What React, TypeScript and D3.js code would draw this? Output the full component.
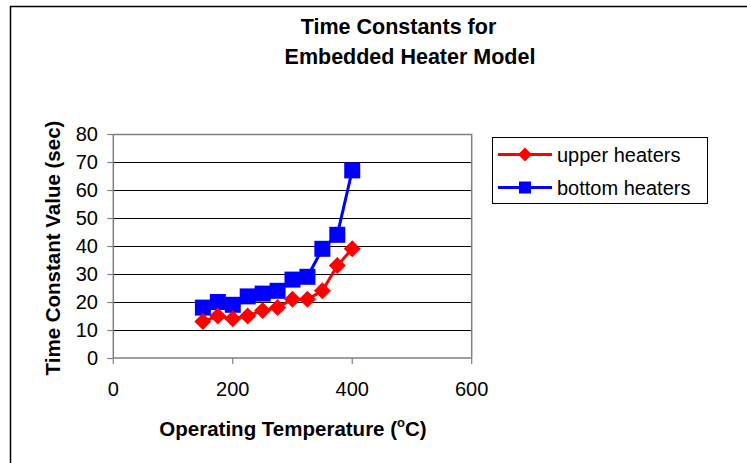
import React from "react";
import * as d3 from "d3";

const temps = [150, 175, 200, 225, 250, 275, 300, 325, 350, 375, 400];
const upperHeaters = [13, 15, 14, 15, 17, 18, 21, 21, 24, 33, 39];
const bottomHeaters = [18, 20, 19, 22, 23, 24, 28, 29, 39, 44, 67];
const xTicks = [0, 200, 400, 600];
const yTicks = [0, 10, 20, 30, 40, 50, 60, 70, 80];
const titleLines = ["Time Constants for", "Embedded Heater Model"];
const seriesNames = ["upper heaters", "bottom heaters"];

const FONT = "'Liberation Sans', Arial, Helvetica, sans-serif";

export default function App() {
  const W = 747, H = 463;
  const left = 113.3, right = 471.7, top = 134, bottom = 358;
  const x = d3.scaleLinear().domain([0, 600]).range([left, right]);
  const y = d3.scaleLinear().domain([0, 80]).range([bottom, top]);
  const line = d3.line<[number, number]>().x(d => x(d[0])).y(d => y(d[1]));
  const upperPts: [number, number][] = temps.map((t, i) => [t, upperHeaters[i]]);
  const bottomPts: [number, number][] = temps.map((t, i) => [t, bottomHeaters[i]]);

  const diamond = (cx: number, cy: number, r: number) =>
    `M${cx},${cy - r}L${cx + r},${cy}L${cx},${cy + r}L${cx - r},${cy}Z`;

  return (
    <svg width={W} height={H} style={{ position: "absolute", left: 0, top: 0, background: "#fff" }}>
      <rect x={0} y={0} width={W} height={H} fill="#fff" />
      {/* outer frame */}
      <path d={`M10.5,${H + 2}V6.5H${W + 2}`} fill="none" stroke="#000" strokeWidth={1.5} />
      {/* title */}
      <text x={398.5} y={34} textAnchor="middle" fontFamily={FONT} fontWeight="bold" fontSize={21.5} fill="#000">{titleLines[0]}</text>
      <text x={410} y={64} textAnchor="middle" fontFamily={FONT} fontWeight="bold" fontSize={21.5} fill="#000">{titleLines[1]}</text>

      {/* gridlines */}
      {yTicks.filter(t => t > 0 && t < 80).map(t => (
        <line key={t} x1={left} x2={right} y1={Math.round(y(t)) + 0.5} y2={Math.round(y(t)) + 0.5} stroke="#000" strokeWidth={1} />
      ))}
      {/* plot border (top/right) */}
      <path d={`M${left},${top + 0.5}H${right}V${bottom}`} fill="none" stroke="#808080" strokeWidth={1.5} />
      {/* axes */}
      <line x1={left} x2={left} y1={top} y2={bottom} stroke="#808080" strokeWidth={1.5} />
      <line x1={left} x2={right} y1={bottom} y2={bottom} stroke="#808080" strokeWidth={1.5} />
      {yTicks.map(t => (
        <g key={t}>
          <line x1={left - 6} x2={left} y1={Math.round(y(t)) + 0.5} y2={Math.round(y(t)) + 0.5} stroke="#808080" strokeWidth={1.2} />
          <text x={98} y={y(t) + 7} textAnchor="end" fontFamily={FONT} fontSize={20} fill="#000">{t}</text>
        </g>
      ))}
      {xTicks.map(t => (
        <g key={t}>
          <line x1={x(t)} x2={x(t)} y1={bottom} y2={bottom + 6} stroke="#808080" strokeWidth={1.2} />
          <text x={x(t)} y={396} textAnchor="middle" fontFamily={FONT} fontSize={20} fill="#000">{t}</text>
        </g>
      ))}

      {/* axis titles */}
      <text x={293} y={436} textAnchor="middle" fontFamily={FONT} fontWeight="bold" fontSize={20.5} fill="#000">
        Operating Temperature (<tspan fontSize={13} dy={-9}>o</tspan><tspan dy={9}>C)</tspan>
      </text>
      <text transform={`translate(60,248) rotate(-90)`} textAnchor="middle" fontFamily={FONT} fontWeight="bold" fontSize={20.5} fill="#000">
        Time Constant Value (sec)
      </text>

      {/* series */}
      <path d={line(bottomPts) || ""} fill="none" stroke="#0000ff" strokeWidth={3} />
      {bottomPts.map((p, i) => (
        <rect key={i} x={x(p[0]) - 8} y={y(p[1]) - 8} width={16} height={16} fill="#0000ff" />
      ))}
      <path d={line(upperPts) || ""} fill="none" stroke="#ff0000" strokeWidth={3} />
      {upperPts.map((p, i) => (
        <path key={i} d={diamond(x(p[0]), y(p[1]), 8.5)} fill="#ff0000" />
      ))}

      {/* legend */}
      <rect x={492.5} y={137.5} width={215} height={66} fill="#fff" stroke="#000" strokeWidth={1} />
      <line x1={498} x2={552} y1={154.5} y2={154.5} stroke="#ff0000" strokeWidth={3} />
      <path d={diamond(525, 154.5, 7)} fill="#ff0000" />
      <text x={557} y={161.5} fontFamily={FONT} fontSize={20} fill="#000">{seriesNames[0]}</text>
      <line x1={498} x2={552} y1={187.5} y2={187.5} stroke="#0000ff" strokeWidth={3} />
      <rect x={519} y={181.5} width={12} height={12} fill="#0000ff" />
      <text x={557} y={194.5} fontFamily={FONT} fontSize={20} fill="#000">{seriesNames[1]}</text>
    </svg>
  );
}
